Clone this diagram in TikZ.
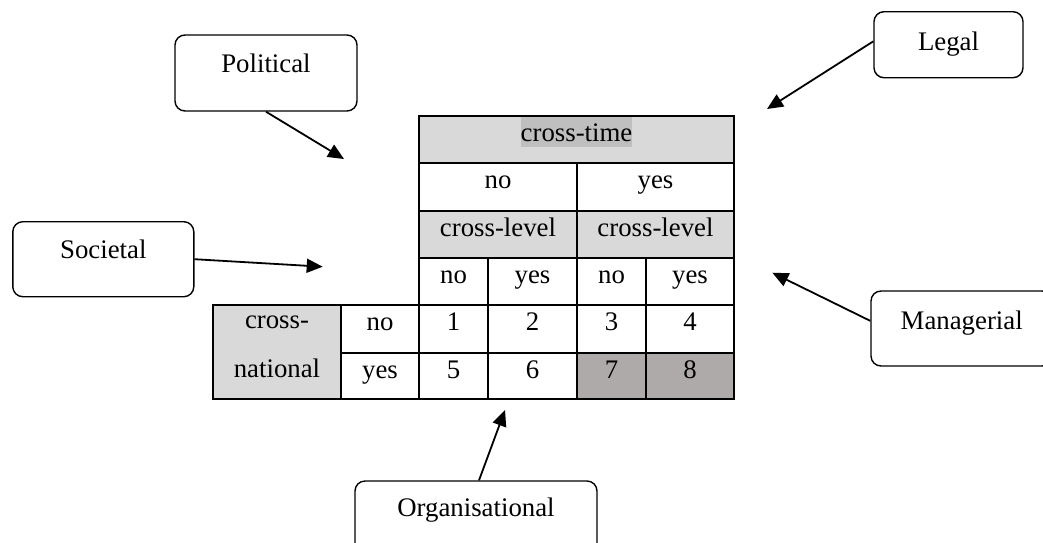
\documentclass[tikz,border=0pt]{standalone}
\usepackage{fontspec}
\setmainfont{Liberation Serif}
\usetikzlibrary{arrows.meta,calc}
\definecolor{lightcell}{HTML}{D9D9D9}
\definecolor{darkcell}{HTML}{AEAAAA}
\definecolor{hilite}{HTML}{BFBFBF}
\newcommand\tcell[7]{%
  \path[cellline, fill=#6] (#2,#3) rectangle (#4,#5);
  \node[lbl] (#1) at ({(#2+#4)/2},{#3+25}) {#7};}
\begin{document}
\begin{tikzpicture}[x=1pt,y=-1pt,
  font=\fontsize{26.8}{30}\selectfont,
  cellline/.style={draw=black, line width=1.3pt},
  lbl/.style={anchor=base, inner sep=0pt},
  factor/.style={draw=black, line width=1.4pt, rounded corners=10pt, rectangle, inner sep=0pt},
  infl/.style={line width=1.8pt, -{Triangle[length=16pt,width=14pt]}}]
\useasboundingbox (0,0) rectangle (1043,542);
\clip (0,0) rectangle (1043,542);
\fill[white] (0,0) rectangle (1043,542);

% header cell with highlighted text
\path[cellline, fill=lightcell] (419,116) rectangle (734,163);
\fill[hilite] (521,117) rectangle (632,147);
\node[lbl] (ct) at (576.5,141) {cross-time};
\path[cellline] (419,116) rectangle (734,163);

\tcell{ctno}{419}{163}{577}{211}{white}{no}
\tcell{ctyes}{577}{163}{734}{211}{white}{yes}
\tcell{cla}{419}{211}{577}{258}{lightcell}{cross-level}
\tcell{clb}{577}{211}{734}{258}{lightcell}{cross-level}
\tcell{lano}{419}{258}{488}{305}{white}{no}
\tcell{layes}{488}{258}{577}{305}{white}{yes}
\tcell{lbno}{577}{258}{646}{305}{white}{no}
\tcell{lbyes}{646}{258}{734}{305}{white}{yes}
\tcell{c1}{419}{305}{488}{353}{white}{1}
\tcell{c2}{488}{305}{577}{353}{white}{2}
\tcell{c3}{577}{305}{646}{353}{white}{3}
\tcell{c4}{646}{305}{734}{353}{white}{4}
\tcell{c5}{419}{353}{488}{399}{white}{5}
\tcell{c6}{488}{353}{577}{399}{white}{6}
\tcell{c7}{577}{353}{646}{399}{darkcell}{7}
\tcell{c8}{646}{353}{734}{399}{darkcell}{8}
\tcell{cnno}{341}{305}{419}{353}{white}{no}
\tcell{cnyes}{341}{353}{419}{399}{white}{yes}
\path[cellline, fill=lightcell] (213,305) rectangle (341,399);
\node[lbl] (cna) at (277,328) {cross-};
\node[lbl] (cnb) at (277,377) {national};

% factor boxes
\node[factor, minimum width=182pt, minimum height=76pt] (pol) at (266,73) {};
\node[lbl] (polt) at (266,72.7) {Political};
\node[factor, minimum width=181pt, minimum height=75pt] (soc) at (103.3,259.2) {};
\node[lbl] (soct) at (103.3,258.3) {Societal};
\node[factor, minimum width=149pt, minimum height=66pt] (leg) at (948.5,44.7) {};
\node[lbl] (legt) at (948.5,50) {Legal};
\node[factor, minimum width=181pt, minimum height=75pt] (man) at (961.5,328.5) {};
\node[lbl] (mant) at (961.7,329.3) {Managerial};
\node[factor, minimum width=242pt, minimum height=75pt] (org) at (476,518.5) {};
\node[lbl] (orgt) at (476,516) {Organisational};

% arrow end points
\coordinate (polE) at (344,159);
\coordinate (socE) at (322.7,266.7);
\coordinate (legE) at (767,109);
\coordinate (manE) at (772.3,272.7);
\coordinate (orgE) at (505,410);

\draw[infl] (pol.south) -- (polE);
\draw[infl] (soc.east) -- (socE);
\draw[infl] ($(leg.north west)!0.45!(leg.south west)$) -- (legE);
\draw[infl] ($(man.north west)!0.4!(man.south west)$) -- (manE);
\draw[infl] ($(org.north)+(3,0)$) -- (orgE);
\end{tikzpicture}
\end{document}
